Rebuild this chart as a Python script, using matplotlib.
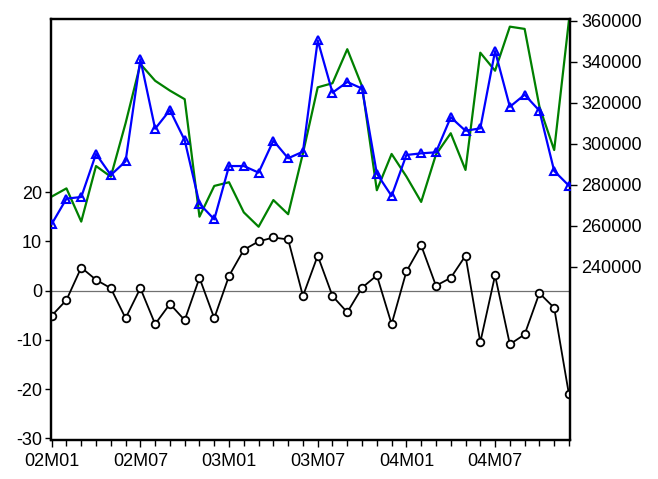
import matplotlib
matplotlib.use("Agg")
import matplotlib.pyplot as plt
from matplotlib.ticker import FixedLocator, MultipleLocator

plt.rcParams['font.family'] = ['Liberation Sans', 'DejaVu Sans']
plt.rcParams['axes.unicode_minus'] = False

periods = [f"{y:02d}M{m:02d}" for y in (2, 3, 4) for m in range(1, 13)]
tick_labels = ["02M01", "02M07", "03M01", "03M07", "04M01", "04M07"]

residual = [-5.1, -1.9, 4.7, 2.2, 0.5, -5.6, 0.5, -6.8, -2.7, -6.0, 2.6, -5.6,
            3.0, 8.3, 10.0, 10.8, 10.4, -1.1, 7.1, -1.1, -4.4, 0.6, 3.1, -6.8,
            3.9, 9.2, 1.0, 2.6, 7.1, -10.5, 3.1, -10.9, -8.9, -0.5, -3.5, -21.1]

actual = [260800, 273200, 274000, 295000, 284700, 291400, 341200, 307300, 316400,
          301700, 270700, 263100, 289100, 289100, 285900, 301500, 292900, 296100,
          350400, 324900, 330100, 326900, 285400, 274500, 294500, 295300, 295800,
          312900, 306300, 307500, 345200, 318000, 323900, 316100, 286700, 279500]

fitted = [274200, 278200, 262000, 289100, 283900, 310000, 338900, 330700, 325900,
          321700, 264400, 279400, 281200, 266500, 259500, 272500, 265600, 295300,
          327500, 329500, 346100, 328000, 277300, 295000, 284000, 271600, 294700,
          305100, 287200, 344400, 335600, 357100, 356000, 318100, 296900, 360300]

x = list(range(len(periods)))

fig = plt.figure(figsize=(6.58, 4.79), dpi=100)
fig.patch.set_facecolor("white")
ax = fig.add_axes([50.5/658, 39/479, (570-50.5)/658, (440-19)/479])
ax2 = ax.twinx()

# residual (left axis)
ax.axhline(0, color="#707070", lw=0.9, zorder=1)
ax.plot(x, residual, color="black", lw=1.3, marker="o", ms=5.5, mfc="white",
        mec="black", mew=1.3, zorder=3)
ax.set_ylim(-30.35, 55.2)
ax.set_yticks([-30, -20, -10, 0, 10, 20])
ax.set_xlim(-0.08, 35.07)
ax.xaxis.set_major_locator(FixedLocator([0, 6, 12, 18, 24, 30]))
ax.set_xticklabels(tick_labels)
ax.xaxis.set_minor_locator(MultipleLocator(1))

# actual / fitted (right axis)
ax2.plot(x, fitted, color="#008000", lw=1.6, zorder=2)
ax2.plot(x, actual, color="#0000FF", lw=1.6, marker="^", ms=6.0, mfc="none",
         mec="#0000FF", mew=1.5, zorder=3)
ax2.set_ylim(155460, 360830)
ax2.set_yticks([240000, 260000, 280000, 300000, 320000, 340000, 360000])

for a in (ax, ax2):
    for s in a.spines.values():
        s.set_linewidth(1.6)
        s.set_color("black")

ax.tick_params(axis="y", direction="out", length=4, width=1, labelsize=13, pad=2)
ax.tick_params(axis="x", which="major", direction="out", length=5, width=1,
               labelsize=13, pad=4)
ax.tick_params(axis="x", which="minor", direction="out", length=4, width=1)
ax2.tick_params(axis="y", direction="out", length=5, width=1, labelsize=13, pad=3)

fig.savefig("out.png", dpi=100, facecolor="white")
